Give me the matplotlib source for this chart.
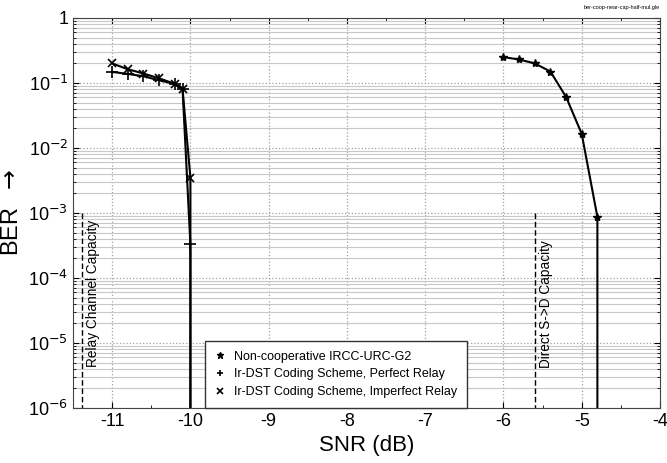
import matplotlib
matplotlib.use("Agg")
import matplotlib.pyplot as plt
from matplotlib.ticker import LogLocator, MultipleLocator, FixedLocator, FixedFormatter

plt.rcParams['font.family'] = ['Liberation Sans', 'DejaVu Sans']

# data (last point below the axis -> vertical drop)
snr_noncoop = [-6.0, -5.8, -5.6, -5.4, -5.2, -5.0, -4.8, -4.8]
ber_noncoop = [0.25, 0.23, 0.2, 0.15, 0.061, 0.0165, 8.7e-4, 1e-8]

snr_perfect = [-11.0, -10.8, -10.6, -10.4, -10.2, -10.1, -10.0, -10.0]
ber_perfect = [0.148, 0.138, 0.127, 0.11, 0.097, 0.08, 3.3e-4, 1e-8]

snr_imperfect = [-11.0, -10.8, -10.6, -10.4, -10.2, -10.1, -10.0, -10.0]
ber_imperfect = [0.2, 0.163, 0.14, 0.118, 0.097, 0.08, 3.5e-3, 1e-8]

relay_cap = -11.39
direct_cap = -5.6

yticks = [1, 1e-1, 1e-2, 1e-3, 1e-4, 1e-5, 1e-6]
ylabels = ['1', r'10$^{-1}$', r'10$^{-2}$', r'10$^{-3}$', r'10$^{-4}$', r'10$^{-5}$', r'10$^{-6}$']

fig = plt.figure(figsize=(6.67, 4.63), dpi=100)
ax = fig.add_axes([73 / 667, 55 / 463, 587 / 667, 390 / 463])

ax.set_yscale('log')
ax.set_xlim(-11.5, -4)
ax.set_ylim(1e-6, 1)

# grid: minor solid, major dotted
ax.yaxis.set_minor_locator(LogLocator(base=10, subs=range(2, 10)))
ax.xaxis.set_minor_locator(MultipleLocator(0.5))
ax.grid(True, which='minor', axis='y', color='#c8c8c8', linestyle='-', linewidth=0.8)
ax.grid(True, which='major', axis='both', color='#a0a0a0', linestyle=':', linewidth=0.9)
ax.set_axisbelow(True)

ax.plot(snr_noncoop, ber_noncoop, color='black', lw=1.5, marker='*', ms=6, label='Non-cooperative IRCC-URC-G2')
ax.plot(snr_perfect, ber_perfect, color='black', lw=1.5, marker='+', ms=9, mew=1.2,
        label='Ir-DST Coding Scheme, Perfect Relay')
ax.plot(snr_imperfect, ber_imperfect, color='black', lw=1.5, marker='x', ms=6, mew=1.2,
        label='Ir-DST Coding Scheme, Imperfect Relay')

ax.plot([relay_cap, relay_cap], [1e-3, 1e-6], color='black', lw=1, ls=(0, (4, 2)))
ax.plot([direct_cap, direct_cap], [1e-3, 1e-6], color='black', lw=1, ls=(0, (4, 2)))
ax.text(relay_cap + 0.06, 5.7e-5, 'Relay Channel Capacity', rotation=90, ha='left', va='center', fontsize=9.8)
ax.text(direct_cap + 0.06, 4e-5, 'Direct S->D Capacity', rotation=90, ha='left', va='center', fontsize=9.8)

ax.yaxis.set_major_locator(FixedLocator(yticks))
ax.yaxis.set_major_formatter(FixedFormatter(ylabels))
ax.set_xticks(range(-11, -3))
ax.set_xticklabels([str(v) for v in range(-11, -3)])
ax.tick_params(which='both', direction='in', top=True, right=True, labelsize=13)
ax.tick_params(which='major', length=4)
ax.tick_params(which='minor', length=2.5)

ax.set_xlabel('SNR (dB)', fontsize=16)
ax.set_ylabel(r'BER  $\rightarrow$', fontsize=17)

for s in ax.spines.values():
    s.set_color('#444444')

leg = ax.legend(loc='lower center', bbox_to_anchor=(0.448, 0.0), fontsize=9, handlelength=0.8,
                handletextpad=0.7, fancybox=False, framealpha=1, edgecolor='#333333',
                borderpad=0.8, labelspacing=0.45, borderaxespad=0)
leg.get_frame().set_linewidth(1.0)
for line in leg.get_lines():
    line.set_linestyle('')
    line.set_markersize(5)

fig.text(660 / 667, 1 - 8 / 463, 'ber-coop-near-cap-half-mul.gle', fontsize=4, ha='right', va='center')

fig.savefig('out.png', dpi=100)
